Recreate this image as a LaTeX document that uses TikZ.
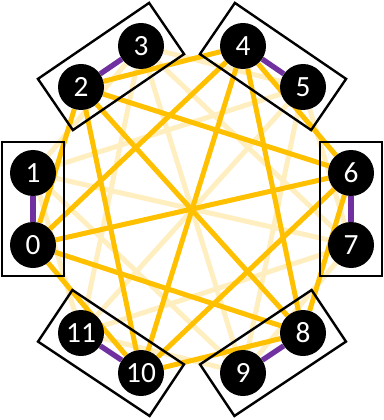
\documentclass[tikz,border=0pt]{standalone}
\usepackage{fontspec}
\setmainfont{Carlito}
\usetikzlibrary{calc,backgrounds}
\definecolor{gold}{HTML}{FFC000}
\definecolor{faint}{HTML}{FFEEC0}
\definecolor{pur}{HTML}{7030A0}
\begin{document}
\begin{tikzpicture}[x=0.75pt,y=-0.75pt,
  vtx/.style={circle,fill=black,text=white,minimum size=34.5pt,inner sep=0pt,font=\fontsize{22}{22}\selectfont},
  strong/.style={draw=gold,line width=3.75pt},
  weak/.style={draw=faint,line width=3.75pt},
  pairedge/.style={draw=pur,line width=4pt},
  grp/.style={draw=black,line width=1.8pt,line join=miter}]
\useasboundingbox (0,0) rectangle (384,420);
\node[vtx] (n0) at (33,245) {0};
\node[vtx] (n1) at (33,173) {1};
\node[vtx] (n2) at (81,87) {2};
\node[vtx] (n3) at (141,46) {3};
\node[vtx] (n4) at (243,46) {4};
\node[vtx] (n5) at (303,87) {5};
\node[vtx] (n6) at (351,173) {6};
\node[vtx] (n7) at (351,245) {7};
\node[vtx] (n8) at (303,333) {8};
\node[vtx] (n9) at (243,373) {9};
\node[vtx] (n10) at (141,373) {10};
\node[vtx] (n11) at (81,333) {11};
\begin{scope}[on background layer]
\foreach \a/\b in {1/3,1/5,1/7,1/9,1/11,3/5,3/7,3/9,3/11,5/7,5/9,5/11,7/9,7/11,9/11}
  \draw[weak] (n\a) -- (n\b);
\foreach \a/\b in {0/2,0/4,0/6,0/8,0/10,2/4,2/6,2/8,2/10,4/6,4/8,4/10,6/8,6/10,8/10}
  \draw[strong] (n\a) -- (n\b);
\foreach \a/\b in {0/1,2/3,4/5,6/7,8/9,10/11}
  \draw[pairedge] (n\a) -- (n\b);
\end{scope}
\foreach \a/\b in {0/1,2/3,4/5,6/7,8/9,10/11}{
  \coordinate (p\a) at ($(n\a.center)!-23.25pt!(n\b.center)$);
  \coordinate (q\a) at ($(n\b.center)!-23.25pt!(n\a.center)$);
  \draw[grp] ($(p\a)!23.25pt!90:(q\a)$) -- ($(p\a)!23.25pt!-90:(q\a)$)
     -- ($(q\a)!23.25pt!90:(p\a)$) -- ($(q\a)!23.25pt!-90:(p\a)$) -- cycle;
}
\end{tikzpicture}
\end{document}
